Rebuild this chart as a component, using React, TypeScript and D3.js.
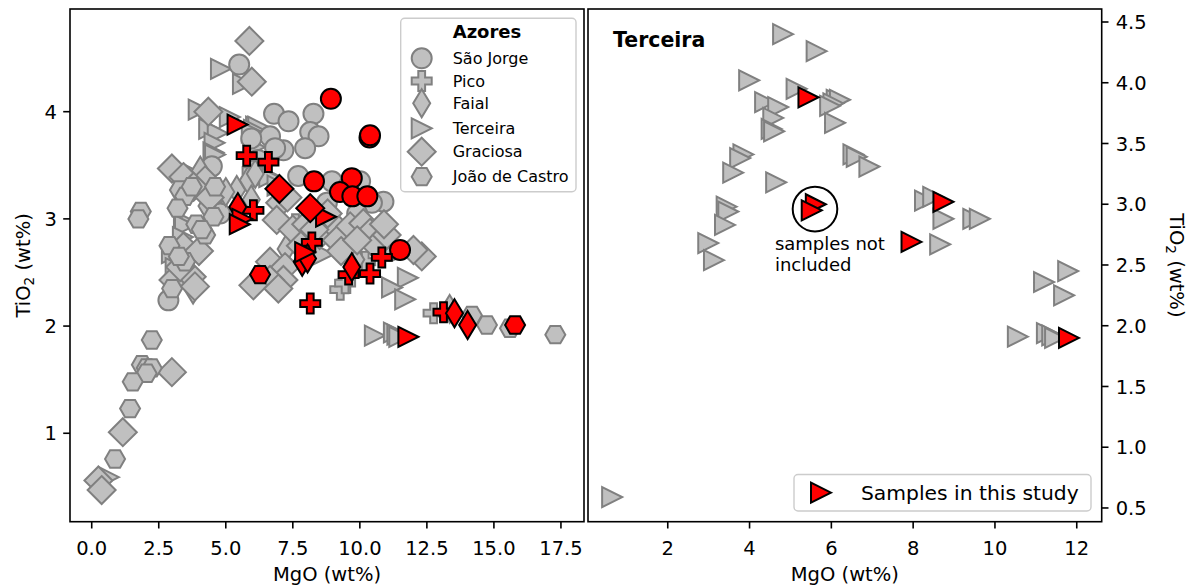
import React from 'react';
import * as d3 from 'd3';

type Pt = [number, number];

// MgO, TiO2 (wt%)
const saoJorge: Pt[] = [
  [5.50, 4.44], [6.80, 3.98], [7.34, 3.91], [8.27, 3.98], [8.15, 3.81], [8.46, 3.77],
  [7.96, 3.66], [6.65, 3.77], [7.15, 3.64], [6.84, 3.66], [5.95, 3.75], [4.48, 3.49],
  [4.79, 3.05], [2.86, 2.24], [8.96, 3.35], [9.55, 3.30], [10.01, 3.35], [10.88, 3.16],
  [10.45, 3.15], [9.90, 3.05], [8.77, 3.15], [7.70, 3.40], [6.20, 3.55], [11.10, 2.70],
];
const saoJorgeStudy: Pt[] = [
  [8.92, 4.12], [10.36, 3.76], [10.38, 3.78], [8.29, 3.35], [9.70, 3.38], [9.26, 3.25],
  [9.72, 3.21], [10.28, 3.21], [11.50, 2.71],
];
const pico: Pt[] = [
  [9.27, 2.34], [9.45, 2.40], [12.75, 2.12], [6.00, 3.45], [7.60, 2.95], [10.20, 2.60],
];
const picoStudy: Pt[] = [
  [5.78, 3.59], [6.59, 3.53], [6.03, 3.08], [8.21, 2.78], [8.15, 2.21], [9.58, 2.48],
  [10.38, 2.49], [10.82, 2.64], [13.12, 2.13],
];
const faial: Pt[] = [
  [5.41, 3.27], [5.84, 3.36], [5.95, 3.18], [3.78, 2.34], [3.55, 2.45], [4.30, 3.12],
  [6.10, 3.42], [4.05, 3.45], [7.25, 2.72], [9.85, 2.62], [13.35, 2.16], [5.00, 3.25],
];
const faialStudy: Pt[] = [
  [5.45, 3.11], [7.85, 2.60], [8.05, 2.63], [9.70, 2.55], [13.53, 2.12], [14.02, 2.01],
];
const terceira: Pt[] = [
  [4.82, 4.40], [5.64, 4.26], [3.99, 4.02], [5.15, 3.95], [6.13, 3.86], [6.21, 3.86],
  [6.05, 3.83], [5.97, 3.81], [4.38, 3.84], [4.70, 3.80], [4.58, 3.71], [4.54, 3.62],
  [4.60, 3.60], [6.09, 3.67], [3.85, 3.41], [3.77, 3.38], [3.60, 3.26], [6.54, 3.41],
  [6.62, 3.39], [6.93, 3.31], [4.65, 3.18], [3.44, 2.98], [3.48, 2.94], [3.40, 2.83],
  [2.99, 2.68], [3.13, 2.54], [8.29, 3.03], [8.49, 3.06], [8.74, 2.88], [9.47, 2.88],
  [9.63, 2.88], [8.66, 2.67], [11.79, 2.45], [11.20, 2.36], [11.69, 2.25], [10.56, 1.91],
  [11.27, 1.94], [11.40, 1.92], [11.47, 1.90], [0.64, 0.59],
];
const terceiraStudy: Pt[] = [
  [5.44, 3.88], [5.62, 3.00], [5.52, 2.95], [8.74, 3.02], [7.96, 2.69], [11.81, 1.90],
];
const graciosa: Pt[] = [
  [5.88, 4.66], [5.97, 4.28], [4.35, 4.00], [2.99, 3.47], [3.42, 3.39], [4.23, 3.36],
  [3.80, 3.30], [4.40, 3.20], [3.42, 2.74], [3.05, 2.43], [3.73, 2.46], [3.85, 2.37],
  [2.99, 1.57], [1.16, 1.01], [0.25, 0.56], [0.37, 0.47], [7.03, 3.15], [6.90, 2.99],
  [7.50, 2.90], [8.00, 2.95], [8.50, 2.85], [9.00, 2.95], [9.14, 2.80], [9.64, 2.93],
  [10.13, 2.96], [10.38, 2.87], [7.80, 2.75], [9.30, 2.70], [10.60, 2.75], [6.65, 2.60],
  [7.21, 2.55], [7.15, 2.43], [6.65, 2.43], [6.03, 2.38], [6.96, 2.35], [12.31, 2.65],
  [12.00, 2.71], [8.80, 3.05], [9.90, 2.80], [7.30, 3.20], [11.00, 2.85], [4.00, 2.70],
  [3.30, 2.55], [8.30, 2.90], [10.90, 2.95],
];
const graciosaStudy: Pt[] = [[7.00, 3.28], [8.15, 3.10]];
const joaoDeCastro: Pt[] = [
  [2.24, 1.87], [1.87, 1.64], [2.05, 1.61], [2.24, 1.61], [2.05, 1.56], [1.53, 1.48],
  [1.43, 1.23], [0.87, 0.76], [1.83, 3.07], [1.74, 3.00], [3.29, 3.27], [3.48, 3.21],
  [3.73, 3.30], [4.23, 2.85], [4.54, 3.02], [3.48, 2.60], [3.20, 3.10], [3.90, 2.95],
  [2.90, 2.75], [3.25, 2.65], [4.60, 3.30], [4.10, 2.90], [3.00, 2.35], [14.18, 2.10],
  [14.74, 2.01], [15.60, 1.98], [17.29, 1.92],
];
const joaoDeCastroStudy: Pt[] = [[6.28, 2.48], [15.79, 2.01]];

const islandNames = ['São Jorge', 'Pico', 'Faial', 'Terceira', 'Graciosa', 'João de Castro'];
const leftXTicks = [0, 2.5, 5, 7.5, 10, 12.5, 15, 17.5];
const leftYTicks = [1, 2, 3, 4];
const rightXTicks = [2, 4, 6, 8, 10, 12];
const rightYTicks = [0.5, 1, 1.5, 2, 2.5, 3, 3.5, 4, 4.5];
const notIncluded: Pt = [5.6, 2.96];

const FONT = 'DejaVu Sans, sans-serif';
const grey = { fill: '#c0c0c0', stroke: '#808080' };
const red = { fill: '#ff0000', stroke: '#000000' };

const poly = (pts: [number, number][]) => d3.line()(pts) + 'Z';
const shapes: Record<string, string> = {
  circle: 'M10,0A10,10 0 1,1 -10,0A10,10 0 1,1 10,0Z',
  plus: poly([[-3.4, -10], [3.4, -10], [3.4, -3.4], [10, -3.4], [10, 3.4], [3.4, 3.4],
    [3.4, 10], [-3.4, 10], [-3.4, 3.4], [-10, 3.4], [-10, -3.4], [-3.4, -3.4]]),
  thin: poly([[0, -14], [8.5, 0], [0, 14], [-8.5, 0]]),
  tri: poly([[10, 0], [-10, 10], [-10, -10]]),
  diamond: poly([[0, -14], [14, 0], [0, 14], [-14, 0]]),
  hex: poly(d3.range(6).map(i => [10 * Math.cos(i * Math.PI / 3), 10 * Math.sin(i * Math.PI / 3)] as [number, number])),
};
const islandShapes = ['circle', 'plus', 'thin', 'tri', 'diamond', 'hex'];

const L = { x0: 70, x1: 584, y0: 9, y1: 521.7 };
const R = { x0: 588, x1: 1101.7, y0: 9, y1: 521.7 };

const xL = d3.scaleLinear().domain([-0.81, 18.36]).range([L.x0, L.x1]);
const yL = d3.scaleLinear().domain([0.175, 4.958]).range([L.y1, L.y0]);
const xR = d3.scaleLinear().domain([0.05, 12.61]).range([R.x0, R.x1]);
const yR = d3.scaleLinear().domain([0.387, 4.607]).range([R.y1, R.y0]);

const Marker = ({ shape, x, y, st }: { shape: string; x: number; y: number; st: { fill: string; stroke: string } }) => (
  <path d={shapes[shape]} transform={`translate(${x},${y})`} fill={st.fill} stroke={st.stroke}
    strokeWidth={2} strokeLinejoin="miter" />
);

const TiO2 = () => (
  <>TiO<tspan fontSize="0.7em" dy="0.3em">2</tspan><tspan dy="-0.21em"> (wt%)</tspan></>
);

export default function App() {
  const greyGroups = [terceira, saoJorge, pico, faial, graciosa, joaoDeCastro];
  const greyShapes = ['tri', 'circle', 'plus', 'thin', 'diamond', 'hex'];
  const redGroups = [saoJorgeStudy, picoStudy, faialStudy, terceiraStudy, graciosaStudy, joaoDeCastroStudy];
  const tickFs = 19.5;

  return (
    <svg width={1195} height={588} style={{ position: 'absolute', left: 0, top: 0, background: '#fff' }}
      fontFamily={FONT}>
      <defs>
        <clipPath id="clipL"><rect x={L.x0} y={L.y0} width={L.x1 - L.x0} height={L.y1 - L.y0} /></clipPath>
        <clipPath id="clipR"><rect x={R.x0} y={R.y0} width={R.x1 - R.x0} height={R.y1 - R.y0} /></clipPath>
      </defs>
      <rect width={1195} height={588} fill="#fff" />

      {/* left panel: all islands */}
      <g clipPath="url(#clipL)">
        {greyGroups.map((g, gi) => g.map((d, i) => (
          <Marker key={`g${gi}-${i}`} shape={greyShapes[gi]} x={xL(d[0])} y={yL(d[1])} st={grey} />
        )))}
        {redGroups.map((g, gi) => g.map((d, i) => (
          <Marker key={`r${gi}-${i}`} shape={islandShapes[gi]} x={xL(d[0])} y={yL(d[1])} st={red} />
        )))}
      </g>
      <rect x={L.x0} y={L.y0} width={L.x1 - L.x0} height={L.y1 - L.y0} fill="none" stroke="#000" strokeWidth={1.6} />
      {leftXTicks.map(t => (
        <g key={t} transform={`translate(${xL(t)},${L.y1})`}>
          <line y2={6.8} stroke="#000" strokeWidth={1.6} />
          <text y={33.5} textAnchor="middle" fontSize={tickFs}>{t.toFixed(1)}</text>
        </g>
      ))}
      {leftYTicks.map(t => (
        <g key={t} transform={`translate(${L.x0},${yL(t)})`}>
          <line x2={-6.8} stroke="#000" strokeWidth={1.6} />
          <text x={-13} dy="0.36em" textAnchor="end" fontSize={tickFs}>{t}</text>
        </g>
      ))}
      <text x={(L.x0 + L.x1) / 2} y={581} textAnchor="middle" fontSize={tickFs}>MgO (wt%)</text>
      <text transform={`translate(30,${(L.y0 + L.y1) / 2}) rotate(-90)`} textAnchor="middle" fontSize={tickFs}><TiO2 /></text>

      {/* left legend */}
      <rect x={400.7} y={18.3} width={175.3} height={173.4} rx={4} fill="#fff" fillOpacity={0.8} stroke="#cccccc" strokeWidth={1.4} />
      <text x={487} y={38} textAnchor="middle" fontSize={18} fontWeight="bold">Azores</text>
      {islandNames.map((n, i) => {
        const cy = [58.3, 81, 103.3, 128.3, 151.7, 176.7][i];
        return (
          <g key={n}>
            <Marker shape={islandShapes[i]} x={421.7} y={cy} st={grey} />
            <text x={452.7} y={cy} dy="0.36em" fontSize={16}>{n}</text>
          </g>
        );
      })}

      {/* right panel: Terceira */}
      <g clipPath="url(#clipR)">
        {terceira.map((d, i) => <Marker key={`t${i}`} shape="tri" x={xR(d[0])} y={yR(d[1])} st={grey} />)}
        {terceiraStudy.map((d, i) => <Marker key={`ts${i}`} shape="tri" x={xR(d[0])} y={yR(d[1])} st={red} />)}
        <circle cx={xR(notIncluded[0])} cy={yR(notIncluded[1])} r={22.3} fill="none" stroke="#000" strokeWidth={2} />
        <text x={xR(4.62)} y={yR(2.62)} fontSize={18}>
          <tspan>samples not</tspan>
          <tspan x={xR(4.62)} dy="1.15em">included</tspan>
        </text>
      </g>
      <rect x={R.x0} y={R.y0} width={R.x1 - R.x0} height={R.y1 - R.y0} fill="none" stroke="#000" strokeWidth={1.6} />
      <text x={613} y={47} fontSize={20.5} fontWeight="bold">Terceira</text>
      {rightXTicks.map(t => (
        <g key={t} transform={`translate(${xR(t)},${R.y1})`}>
          <line y2={6.8} stroke="#000" strokeWidth={1.6} />
          <text y={33.5} textAnchor="middle" fontSize={tickFs}>{t}</text>
        </g>
      ))}
      {rightYTicks.map(t => (
        <g key={t} transform={`translate(${R.x1},${yR(t)})`}>
          <line x2={6.8} stroke="#000" strokeWidth={1.6} />
          <text x={14} dy="0.36em" fontSize={tickFs}>{t.toFixed(1)}</text>
        </g>
      ))}
      <text x={(R.x0 + R.x1) / 2} y={581} textAnchor="middle" fontSize={tickFs}>MgO (wt%)</text>
      <text transform={`translate(1170,${(R.y0 + R.y1) / 2}) rotate(90)`} textAnchor="middle" fontSize={tickFs}><TiO2 /></text>

      {/* right legend */}
      <rect x={794} y={474.5} width={297} height={36.5} rx={4} fill="#fff" fillOpacity={0.8} stroke="#cccccc" strokeWidth={1.4} />
      <Marker shape="tri" x={821} y={492.7} st={red} />
      <text x={861} y={492.7} dy="0.36em" fontSize={20.3}>Samples in this study</text>
    </svg>
  );
}
